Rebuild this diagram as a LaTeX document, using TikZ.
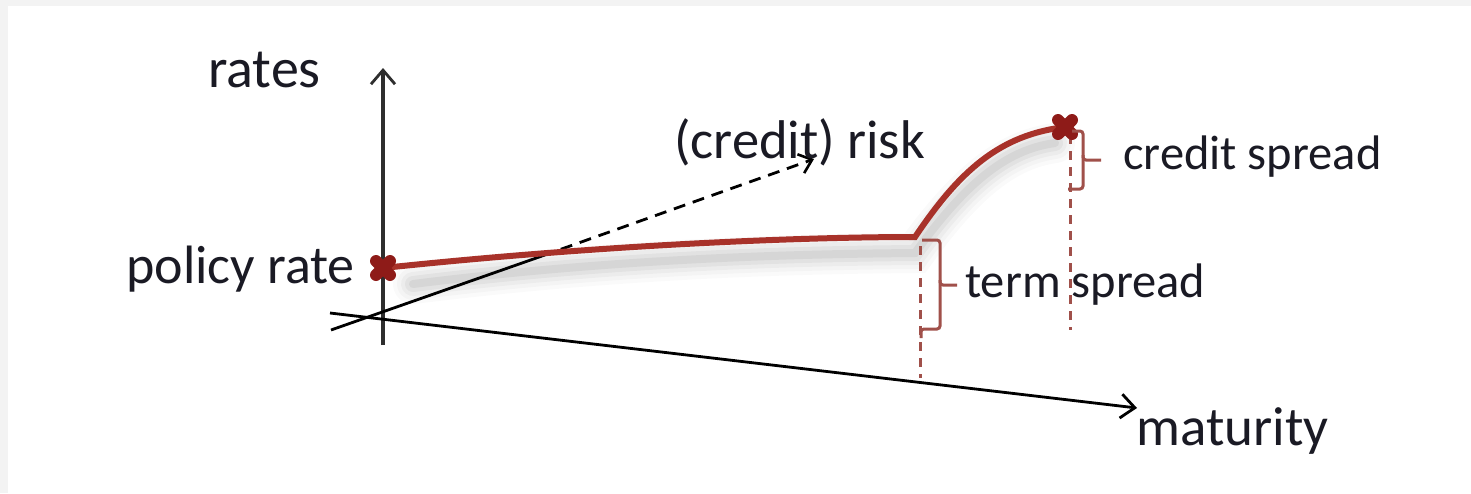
\documentclass[tikz,border=0pt]{standalone}
\usepackage{fontspec}
\setmainfont{Carlito}
\usetikzlibrary{arrows.meta}
\definecolor{curvered}{HTML}{A8322A}
\definecolor{xred}{HTML}{8E1B18}
\definecolor{bracered}{HTML}{A0504A}
\definecolor{txt}{HTML}{1A1A24}
\definecolor{axisgray}{HTML}{2E2E2E}
\definecolor{strip}{HTML}{F3F3F3}
\tikzset{
  lbl/.style={text=txt, inner sep=0pt, anchor=base west},
  axisline/.style={draw=axisgray, line width=4pt, -{Straight Barb[length=14pt,width=24pt,line width=2.8pt]}},
  ratecurve/.style={draw=curvered, line width=6pt, line cap=round, line join=miter},
  shadowline/.style={draw=black, line cap=round},
  xmark/.style={draw=xred, line width=12pt, line cap=round},
  dropline/.style={draw=bracered, line width=3pt, dash pattern=on 9pt off 7pt},
  bracel/.style={draw=bracered, line width=3pt, rounded corners=3pt},
}
\newcommand{\fs}[1]{\fontsize{#1}{#1}\selectfont}
\begin{document}
\begin{tikzpicture}[x=1pt,y=-1pt]
\useasboundingbox (0,0) rectangle (1471,493);
\fill[white] (0,0) rectangle (1471,493);
\fill[strip] (0,0) rectangle (1471,6);
\fill[strip] (0,0) rectangle (8,493);

% coordinates
\coordinate (p0) at (383,268);
\coordinate (p1) at (915,237);
\coordinate (p2) at (1065,127);
\coordinate (yb) at (383,345);
\coordinate (yt) at (383,68);
\coordinate (ms) at (330,313);
\coordinate (me) at (1137,408);
\coordinate (rs) at (331,330);
\coordinate (rm) at (542,256);
\coordinate (re) at (814,159);

% shadow of curve
\foreach \w/\o in {40/0.02,32/0.025,24/0.03,16/0.04,8/0.05}{
  \draw[shadowline, line width=\w pt, opacity=\o]
    ([shift={(30,16)}]p0) .. controls (620,258) and (800,254) .. ([shift={(0,16)}]p1)
    .. controls (965,184) and (1005,150) .. ([shift={(-10,16)}]p2);
}

% axes
\draw[axisline] (yb) -- (yt);
\draw[axisline, draw=black, line width=2.8pt] (ms) -- (me);
\draw[draw=black, line width=2.8pt] (rs) -- (rm);
\draw[draw=black, line width=2.8pt, dash pattern=on 12pt off 8pt, -{Straight Barb[length=12pt,width=20pt,line width=2.6pt]}] (rm) -- (re);

% drop lines
\coordinate (d1t) at (920,246);
\coordinate (d1b) at (920,378);
\coordinate (d2t) at (1070,135);
\coordinate (d2b) at (1070,330);
\draw[dropline] (d1t) -- (d1b);
\draw[dropline] (d2t) -- (d2b);

% curve
\draw[ratecurve] (p0) .. controls (600,245) and (800,237) .. (p1)
  .. controls (960,170) and (1000,135) .. (p2);

% x marks
\foreach \c in {p0,p2}{
  \draw[xmark] ([shift={(-7,-7)}]\c) -- ([shift={(7,7)}]\c);
  \draw[xmark] ([shift={(-7,7)}]\c) -- ([shift={(7,-7)}]\c);
}

% braces
\coordinate (b1tip) at (957,285);
\draw[bracel] (922,240) -- (940,240) -- (940,285) -- (b1tip);
\draw[bracel] (940,280) -- (940,329) -- (921,329) -- (921,338);
\coordinate (b2tip) at (1101,160);
\draw[bracel] (1072,131) -- (1083,131) -- (1083,160) -- (b2tip);
\draw[bracel] (1083,155) -- (1083,189) -- (1068,189);

% labels
\node[lbl, font=\fs{56}] (rates) at (208,87) {rates};
\node[lbl, font=\fs{54}] (policy) at (126,283) {policy rate};
\node[lbl, font=\fs{54.5}] (risk) at (674,158) {(credit) risk};
\node[lbl, font=\fs{48.5}] (cs) at (1123,169) {credit spread};
\node[lbl, font=\fs{48.5}] (ts) at (965,297) {term spread};
\node[lbl, font=\fs{55}] (mat) at (1136,445) {maturity};
\end{tikzpicture}
\end{document}
